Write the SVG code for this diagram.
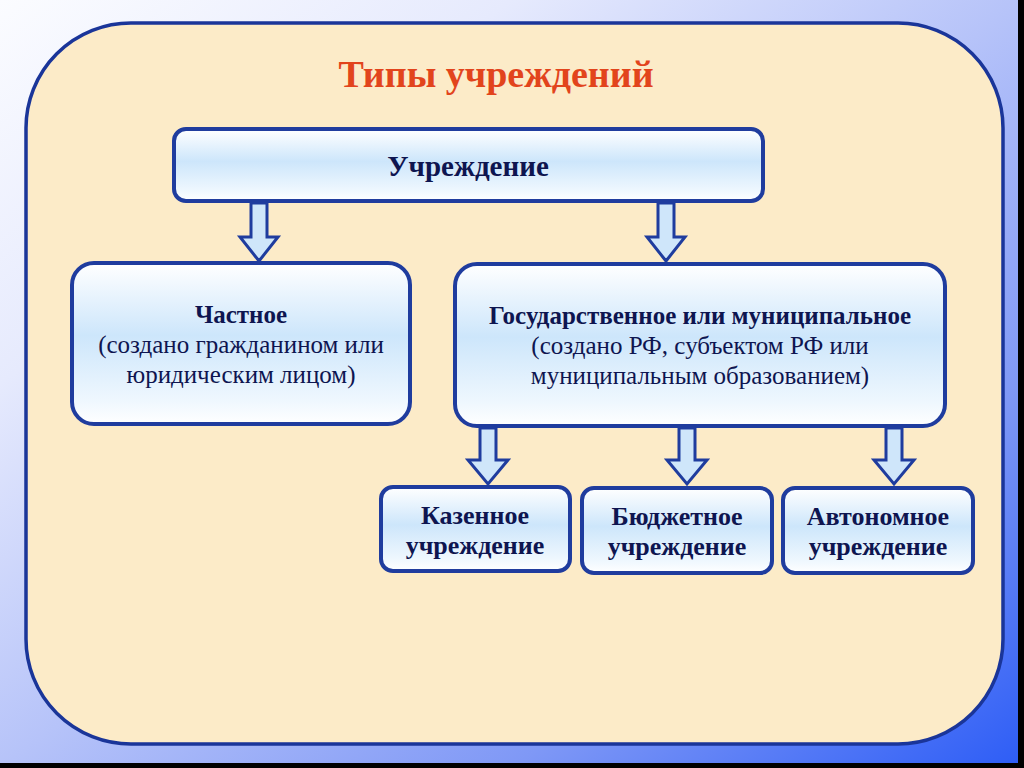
<svg xmlns="http://www.w3.org/2000/svg" width="1024" height="768" viewBox="0 0 1024 768">
<defs>
<linearGradient id="bg" x1="0" y1="0" x2="1" y2="1">
<stop offset="0" stop-color="#fbfcff"/>
<stop offset="0.25" stop-color="#e6eafd"/>
<stop offset="0.5" stop-color="#b6c3f9"/>
<stop offset="0.75" stop-color="#7f98f6"/>
<stop offset="1" stop-color="#2c5cf6"/>
</linearGradient>
<linearGradient id="box" x1="0" y1="0" x2="0" y2="1">
<stop offset="0" stop-color="#ffffff"/>
<stop offset="0.45" stop-color="#cde6fb"/>
<stop offset="0.85" stop-color="#eef7fe"/>
<stop offset="1" stop-color="#ffffff"/>
</linearGradient>
<style>
.node{fill:url(#box);stroke:#1f3c9e;stroke-width:4}
.arrow{fill:#cfe6fa;stroke:#1f3c9e;stroke-width:3;stroke-linejoin:miter}
.t{font-family:"Liberation Serif","Times New Roman",serif;fill:#0e1550;text-anchor:middle}
.b{font-weight:bold;font-size:25px}
.r{font-size:25px}
.s{font-weight:bold;font-size:26px}
</style>
</defs>
<rect x="0" y="0" width="1024" height="768" fill="url(#bg)"/>
<rect x="1018" y="0" width="6" height="768" fill="#000"/>
<rect x="0" y="763" width="1024" height="5" fill="#000"/>
<rect x="26" y="23" width="977" height="721" rx="105" ry="105" fill="#fcebc8" stroke="#1a3599" stroke-width="3.5"/>
<text x="496" y="87" font-family="Liberation Serif,serif" font-weight="bold" font-size="38" fill="#e2441c" text-anchor="middle">Типы учреждений</text>
<g id="connectors">
<path class="arrow" d="M251,203 H267 V237 H278 L259,261 L240,237 H251 Z"/>
<path class="arrow" d="M658,203 H674 V237 H685 L666,261 L647,237 H658 Z"/>
<path class="arrow" d="M480,428 H496 V460 H508 L488,484 L468,460 H480 Z"/>
<path class="arrow" d="M679,428 H695 V460 H707 L687,484 L667,460 H679 Z"/>
<path class="arrow" d="M886,428 H902 V460 H914 L894,484 L874,460 H886 Z"/>
</g>
<g id="n-root">
<rect class="node" x="174" y="129" width="589" height="72" rx="12"/>
<text class="t b" x="468" y="176" style="font-size:29px">Учреждение</text>
</g>
<g id="n-private">
<rect class="node" x="72" y="263" width="338" height="161" rx="22"/>
<text class="t b" x="241" y="323">Частное</text>
<text class="t r" x="241" y="353">(создано гражданином или</text>
<text class="t r" x="241" y="383">юридическим лицом)</text>
</g>
<g id="n-gov">
<rect class="node" x="455" y="264" width="490" height="162" rx="22"/>
<text class="t b" x="700" y="324">Государственное или муниципальное</text>
<text class="t r" x="700" y="354">(создано РФ, субъектом РФ или</text>
<text class="t r" x="700" y="384">муниципальным образованием)</text>
</g>
<g id="n-kazennoe">
<rect class="node" x="381" y="487" width="189" height="84" rx="12"/>
<text class="t s" x="475" y="524">Казенное</text>
<text class="t s" x="475" y="554">учреждение</text>
</g>
<g id="n-budget">
<rect class="node" x="582" y="488" width="190" height="85" rx="12"/>
<text class="t s" x="677" y="525">Бюджетное</text>
<text class="t s" x="677" y="555">учреждение</text>
</g>
<g id="n-auto">
<rect class="node" x="783" y="488" width="190" height="85" rx="12"/>
<text class="t s" x="878" y="525">Автономное</text>
<text class="t s" x="878" y="555">учреждение</text>
</g>
</svg>
